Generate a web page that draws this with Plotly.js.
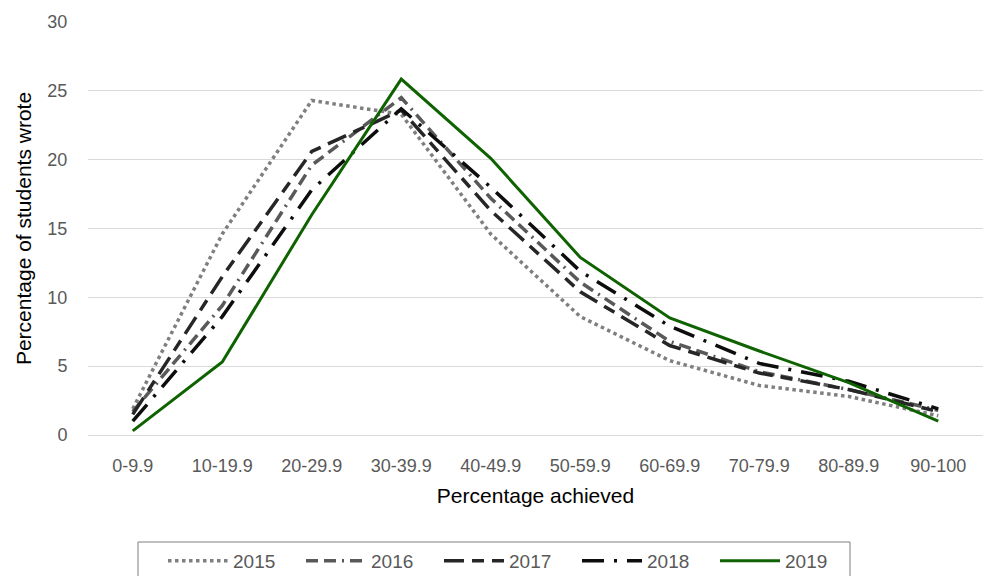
<!DOCTYPE html>
<html>
<head>
<meta charset="utf-8">
<script src="https://cdn.plot.ly/plotly-3.0.1.min.js"></script>
<style>html,body{margin:0;padding:0;background:#fff;}#chart{width:989px;height:576px;}</style>
</head>
<body>
<div id="chart"></div>
<script>
const categories = ["0-9.9","10-19.9","20-29.9","30-39.9","40-49.9","50-59.9","60-69.9","70-79.9","80-89.9","90-100"];
const years = ["2015","2016","2017","2018","2019"];
const v2015 = [1.9, 14.6, 24.3, 23.3, 14.6, 8.6, 5.4, 3.6, 2.8, 1.4];
const v2016 = [1.7, 9.4, 19.6, 24.5, 17.2, 11.1, 6.8, 4.6, 3.3, 1.8];
const v2017 = [1.5, 11.5, 20.6, 23.6, 16.3, 10.4, 6.5, 4.5, 3.3, 1.7];
const v2018 = [1.0, 8.6, 17.8, 23.7, 18.0, 11.9, 7.9, 5.2, 3.9, 1.9];
const v2019 = [0.3, 5.3, 16.0, 25.85, 20.1, 12.9, 8.5, 6.1, 3.8, 1.0];
const seriesValues = [v2015, v2016, v2017, v2018, v2019];

const styles = [
  {color:"#7f7f7f", dash:"dot", width:3.5},
  {color:"#595959", dash:"12px,6px,12px,6px,2px,6px", width:3.5},
  {color:"#262626", dash:"20px,8px,12px,8px", width:3.5},
  {color:"#0d0d0d", dash:"22px,10px,3px,10px", width:3.5},
  {color:"#0f6200", dash:"solid", width:3}
];

const traces = years.map((y, i) => ({
  type: "scatter",
  mode: "lines",
  name: y,
  x: categories,
  y: seriesValues[i],
  line: {color: styles[i].color, dash: styles[i].dash, width: styles[i].width},
  hoverinfo: "skip"
}));

const layout = {
  width: 989, height: 576,
  margin: {l: 88, r: 6, t: 22, b: 141},
  paper_bgcolor: "#ffffff",
  plot_bgcolor: "#ffffff",
  font: {family: "Liberation Sans, Arial, sans-serif", color: "#595959", size: 18},
  showlegend: true,
  xaxis: {
    type: "category",
    range: [-0.5, 9.5],
    automargin: false,
    showgrid: false,
    showline: true,
    linecolor: "#d9d9d9",
    linewidth: 1,
    ticks: "outside",
    ticklen: 14,
    tickcolor: "rgba(0,0,0,0)",
    tickfont: {size: 18, color: "#595959"},
    title: {text: "Percentage achieved", font: {size: 21, color: "#000000"}, standoff: 13}
  },
  yaxis: {
    range: [0, 30],
    dtick: 5,
    automargin: false,
    showgrid: true,
    gridcolor: "#d9d9d9",
    gridwidth: 1,
    zeroline: false,
    showline: false,
    ticks: "outside",
    ticklen: 16,
    tickcolor: "rgba(0,0,0,0)",
    tickfont: {size: 18, color: "#595959"},
    title: {text: "Percentage of students wrote", font: {size: 21, color: "#000000"}, standoff: 10}
  },
  shapes: [{
    type: "rect", xref: "paper", yref: "paper",
    x0: (138 - 88) / 895, x1: (850 - 88) / 895,
    y0: (435 - 542) / 413, y1: (435 - 600) / 413,
    line: {color: "#7f7f7f", width: 1},
    fillcolor: "rgba(0,0,0,0)",
    layer: "above"
  }],
  legend: {
    orientation: "h",
    xref: "container", yref: "container",
    x: 163/989, xanchor: "left",
    y: 1 - 542/576, yanchor: "top",
    borderwidth: 0,
    bgcolor: "rgba(0,0,0,0)",
    font: {size: 19, color: "#595959"},
    itemwidth: 60,
    entrywidth: 63,
    entrywidthmode: "pixels",
    traceorder: "normal",
    itemclick: false
  }
};

Plotly.newPlot("chart", traces, layout, {displayModeBar: false, staticPlot: true});
</script>
</body>
</html>
